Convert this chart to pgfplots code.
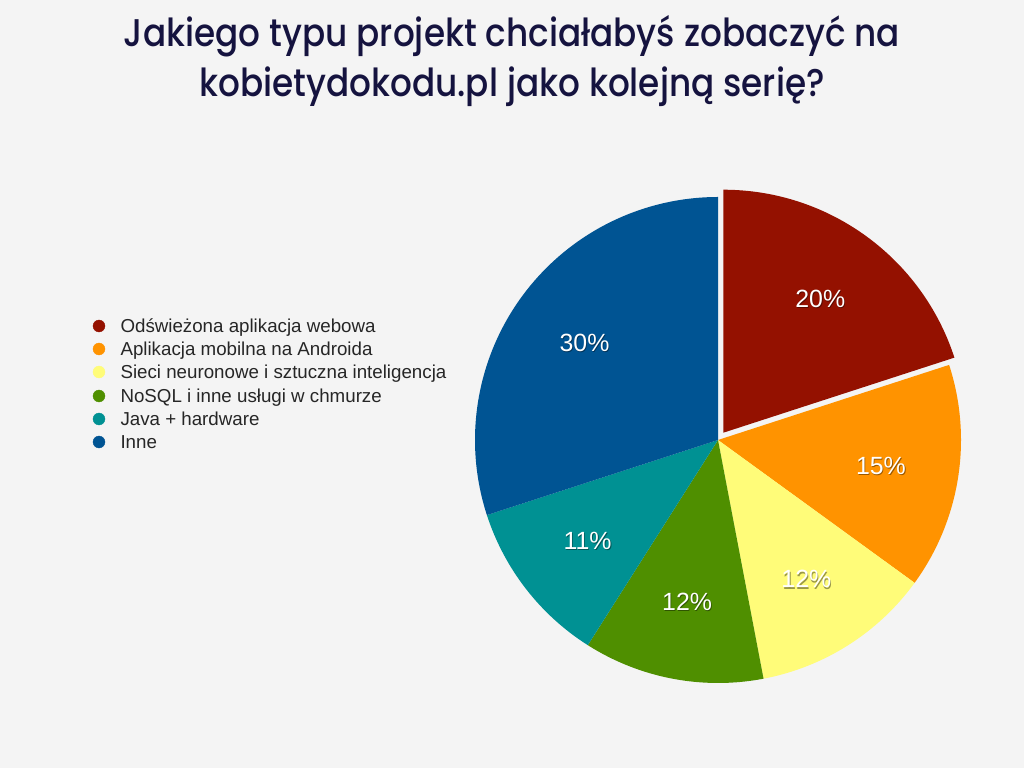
\documentclass[border=0pt]{standalone}
\usepackage{fontspec}
\usepackage{graphicx}
\setmainfont{Liberation Sans}
\newfontfamily\titlefont{Poppins Medium}
\usepackage{pgfplots}
\pgfplotsset{compat=1.18}
\definecolor{bg}{HTML}{F4F4F4}
\definecolor{titlec}{HTML}{15133F}
\definecolor{cA}{HTML}{941100}
\definecolor{cB}{HTML}{FF9300}
\definecolor{cC}{HTML}{FFFC79}
\definecolor{cD}{HTML}{4F8F00}
\definecolor{cE}{HTML}{009193}
\definecolor{cF}{HTML}{005493}
\newcommand\pctfont{\fontsize{25}{30}\selectfont}
\newcommand\legfont{\fontsize{18.8}{22}\selectfont}
\newcommand\ttl[1]{\scalebox{0.905}[1.02]{\titlefont\fontsize{38}{46}\selectfont #1}}
% #1 cumulative percent before slice, #2 value (percent), #3 colour, #4 explode (bp)
\newcommand\slice[4]{%
  \fill[#3] (axis cs:718,328) ++({90-3.6*(#1+#2/2)}:{#4*1bp}) -- ++({90-3.6*#1}:243bp)
     arc[start angle={90-3.6*#1}, delta angle={-3.6*#2}, radius=243bp] -- cycle;
  \path (axis cs:718.8,326.8) ++({90-3.6*(#1+#2/2)}:{(#4+165)*1bp}) node[text=black, opacity=0.4, font=\pctfont]{#2\%};
  \path (axis cs:718,328) ++({90-3.6*(#1+#2/2)}:{(#4+165)*1bp}) node[text=white, font=\pctfont]{#2\%};
}
\newcommand\legitem[3]{%
  \addplot[only marks, mark=*, mark size=6, color=#1] coordinates {(99,#2)};
  \node[anchor=base west, font=\legfont, text=black!85] at (axis cs:117,#2-6.7) {#3};
}
\begin{document}
\begin{tikzpicture}
\begin{axis}[x=1bp, y=1bp, xmin=0, xmax=1024, ymin=0, ymax=768, hide axis, clip=false]
\fill[bg] (axis cs:0,0) rectangle (axis cs:1024,768);
\node[anchor=base, text=titlec, inner sep=0pt] at (axis cs:512,721) {\ttl{Jakiego typu projekt chciałabyś zobaczyć na}};
\node[anchor=base, text=titlec, inner sep=0pt] at (axis cs:512,671) {\ttl{kobietydokodu.pl jako kolejną serię?}};
\slice{0}{20}{cA}{9}
\slice{20}{15}{cB}{0}
\slice{35}{12}{cC}{0}
\slice{47}{12}{cD}{0}
\slice{59}{11}{cE}{0}
\slice{70}{30}{cF}{0}
\legitem{cA}{442}{Odświeżona aplikacja webowa}
\legitem{cB}{419}{Aplikacja mobilna na Androida}
\legitem{cC}{396}{Sieci neuronowe i sztuczna inteligencja}
\legitem{cD}{372}{NoSQL i inne usługi w chmurze}
\legitem{cE}{349}{Java + hardware}
\legitem{cF}{326}{Inne}
\end{axis}
\end{tikzpicture}
\end{document}
